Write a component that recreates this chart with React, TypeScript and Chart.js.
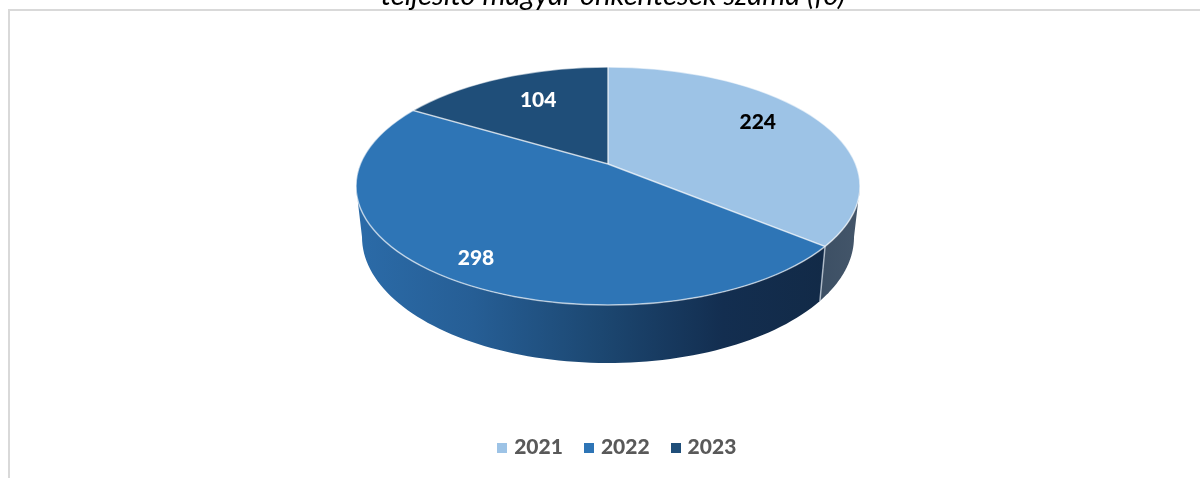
import React, { useEffect, useRef } from "react";
import { Chart, registerables } from "chart.js";

Chart.register(...registerables);

const categories = ["2021", "2022", "2023"];
const volunteers = [224, 298, 104];
const sliceColors = ["#9DC3E6", "#2E75B6", "#1F4E79"];
const labelColors = ["#000000", "#FFFFFF", "#FFFFFF"];
const titleText = "teljesítő magyar önkéntesek száma (fő)";

// 3D projection of the pie (style only)
const top = { cx: 608, cy: 186, rx: 252, ry: 119 };
const base = { cx: 608, cy: 237, rx: 246, ry: 126 };
const apex = { x: 608, y: 164 };
const tilt = 0.472;
const labelRadius = [166, 233, 140];
const labelShift = [-8, 4, -6];

const TAU = Math.PI * 2;

function ellipseParam(a: number) {
  const dx = Math.sin(a);
  const dy = -Math.cos(a) * tilt;
  const ax = (apex.x - top.cx) / top.rx;
  const ay = (apex.y - top.cy) / top.ry;
  const bx = dx / top.rx;
  const by = dy / top.ry;
  const A = bx * bx + by * by;
  const B = 2 * (ax * bx + ay * by);
  const C = ax * ax + ay * ay - 1;
  const s = (-B + Math.sqrt(B * B - 4 * A * C)) / (2 * A);
  const ex = ax + s * bx;
  const ey = ay + s * by;
  let t = Math.atan2(ex, -ey);
  if (t < 0) t += TAU;
  return t;
}

const at = (e: typeof top, t: number) => ({
  x: e.cx + e.rx * Math.sin(t),
  y: e.cy - e.ry * Math.cos(t),
});

function wallFill(ctx: CanvasRenderingContext2D, i: number) {
  if (i === 0) {
    const g = ctx.createLinearGradient(820, 0, 860, 0);
    g.addColorStop(0, "#3C4F64");
    g.addColorStop(1, "#44566A");
    return g;
  }
  const g = ctx.createLinearGradient(356, 0, 826, 0);
  g.addColorStop(0, "#2B6BA8");
  g.addColorStop(0.25, "#265E95");
  g.addColorStop(0.52, "#1C4771");
  g.addColorStop(0.78, "#132E50");
  g.addColorStop(1, "#122A47");
  return g;
}

function legendSquare(color: string) {
  const c = document.createElement("canvas");
  c.width = 10;
  c.height = 10;
  const x = c.getContext("2d")!;
  x.fillStyle = color;
  x.fillRect(0, 0, 10, 10);
  return c;
}

const pie3d = {
  id: "pie3d",
  afterLayout(chart: any) {
    chart.legend.left += 5.5;
    chart.legend.right += 5.5;
  },
  beforeDraw(chart: any) {
    const ctx = chart.ctx;
    ctx.save();
    ctx.fillStyle = "#D9D9D9";
    ctx.fillRect(8, 9, 1192, 2);
    ctx.fillRect(8, 9, 2, 469);
    ctx.restore();
  },
  beforeDatasetsDraw(chart: any) {
    const ctx = chart.ctx as CanvasRenderingContext2D;
    const arcs = chart.getDatasetMeta(0).data;
    arcs.forEach((arc: any, i: number) => {
      let t1 = ellipseParam(arc.startAngle + Math.PI / 2);
      let t2 = ellipseParam(arc.endAngle + Math.PI / 2);
      if (t2 <= t1) t2 += TAU;
      t1 = Math.max(t1, Math.PI / 2);
      t2 = Math.min(t2, (Math.PI * 3) / 2);
      if (t2 <= t1) return;
      ctx.beginPath();
      const n = 80;
      for (let k = 0; k <= n; k++) {
        const p = at(top, t1 + ((t2 - t1) * k) / n);
        k ? ctx.lineTo(p.x, p.y) : ctx.moveTo(p.x, p.y);
      }
      for (let k = n; k >= 0; k--) {
        const p = at(base, t1 + ((t2 - t1) * k) / n);
        ctx.lineTo(p.x, p.y);
      }
      ctx.closePath();
      ctx.fillStyle = wallFill(ctx, i);
      ctx.fill();
    });
    // seams on the wall
    ctx.strokeStyle = "rgba(205,215,225,0.75)";
    ctx.lineWidth = 1.5;
    arcs.forEach((arc: any) => {
      const t = ellipseParam(arc.startAngle + Math.PI / 2);
      if (t <= Math.PI / 2 || t >= (Math.PI * 3) / 2) return;
      const a = at(top, t);
      const b = at(base, t);
      ctx.beginPath();
      ctx.moveTo(a.x, a.y);
      ctx.lineTo(b.x, b.y);
      ctx.stroke();
    });
    // the top face: library arcs, clipped to the rim and flattened
    const c = arcs[0];
    ctx.save();
    ctx.beginPath();
    ctx.ellipse(top.cx, top.cy, top.rx, top.ry, 0, 0, TAU);
    ctx.clip();
    ctx.translate(apex.x, apex.y);
    ctx.scale(1, tilt);
    ctx.translate(-c.x, -c.y);
  },
  afterDatasetsDraw(chart: any) {
    const ctx = chart.ctx as CanvasRenderingContext2D;
    const arcs = chart.getDatasetMeta(0).data;
    ctx.restore();
    ctx.save();
    ctx.beginPath();
    ctx.ellipse(top.cx, top.cy, top.rx, top.ry, 0, 0, TAU);
    ctx.clip();
    ctx.strokeStyle = "rgba(255,255,255,0.7)";
    ctx.lineWidth = 1.5;
    arcs.forEach((arc: any) => {
      const a = arc.startAngle + Math.PI / 2;
      ctx.beginPath();
      ctx.moveTo(apex.x, apex.y);
      ctx.lineTo(apex.x + 600 * Math.sin(a), apex.y - 600 * Math.cos(a) * tilt);
      ctx.stroke();
    });
    ctx.restore();
    ctx.beginPath();
    ctx.ellipse(top.cx, top.cy, top.rx, top.ry, 0, 0, TAU);
    ctx.strokeStyle = "rgba(255,255,255,0.6)";
    ctx.lineWidth = 1.5;
    ctx.stroke();
    ctx.save();
    ctx.font = "900 21px Lato";
    ctx.textAlign = "center";
    ctx.textBaseline = "middle";
    arcs.forEach((arc: any, i: number) => {
      const a = (arc.startAngle + arc.endAngle) / 2 + Math.PI / 2;
      ctx.fillStyle = labelColors[i];
      ctx.fillText(
        String(volunteers[i]),
        apex.x + labelRadius[i] * Math.sin(a),
        apex.y - labelRadius[i] * Math.cos(a) * tilt + labelShift[i]
      );
    });
    ctx.restore();
  },
};

export default function App() {
  const ref = useRef<HTMLCanvasElement>(null);
  useEffect(() => {
    const chart = new Chart(ref.current!, {
      type: "pie",
      data: {
        labels: categories,
        datasets: [
          {
            data: volunteers,
            backgroundColor: sliceColors,
            borderWidth: 0,
            radius: 340,
            clip: false,
          } as any,
        ],
      },
      options: {
        responsive: false,
        animation: false,
        layout: { padding: { left: 26, right: 0, top: 0, bottom: 10 } },
        plugins: {
          tooltip: { enabled: false },
          title: {
            display: true,
            text: titleText,
            color: "#000000",
            font: { family: "Lato", size: 29.25, style: "italic", weight: "normal" },
            padding: { top: -22, bottom: 0 },
            align: "center",
          },
          legend: {
            position: "bottom",
            labels: {
              usePointStyle: true,
              boxWidth: 3,
              boxHeight: 10,
              padding: 24.5,
              color: "#595959",
              font: { family: "Lato", size: 21, weight: "900" },
              generateLabels: () =>
                categories.map((text, i) => ({
                  text,
                  index: i,
                  fontColor: "#595959",
                  fillStyle: sliceColors[i],
                  strokeStyle: sliceColors[i],
                  lineWidth: 0,
                  pointStyle: legendSquare(sliceColors[i]),
                  hidden: false,
                })),
            },
          },
        },
      },
      plugins: [pie3d],
    } as any);
    return () => chart.destroy();
  }, []);
  return (
    <div style={{ position: "fixed", left: 0, top: 0, width: 1200, height: 478, background: "#fff" }}>
      <canvas ref={ref} width={1200} height={478} style={{ display: "block" }} />
    </div>
  );
}
